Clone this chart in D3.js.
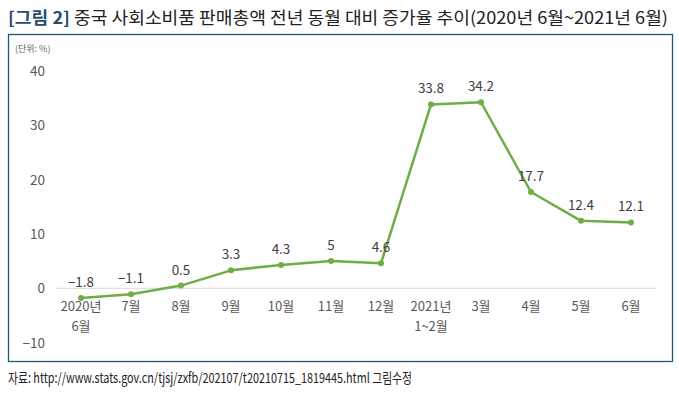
<!DOCTYPE html>
<html>
<head>
<meta charset="utf-8">
<script src="https://cdn.jsdelivr.net/npm/d3@7"></script>
<style>
    body { margin: 0; background: #fff; }
    svg { display: block; font-family: "Noto Sans CJK KR", "Noto Sans", sans-serif; }
</style>
</head>
<body>
<div id="chart"></div>
<script>
// ------------------------------------------
//  Data
// ------------------------------------------
const months = ["2020년\n6월", "7월", "8월", "9월", "10월", "11월", "12월", "2021년\n1~2월", "3월", "4월", "5월", "6월"]
const growth = [-1.8, -1.1, 0.5, 3.3, 4.3, 5, 4.6, 33.8, 34.2, 17.7, 12.4, 12.1]
const yTicks = [-10, 0, 10, 20, 30, 40]

const titleTag = "[그림 2]"
const titleText = " 중국 사회소비품 판매총액 전년 동월 대비 증가율 추이(2020년 6월~2021년 6월)"
const unitText = "(단위: %)"
const sourceText = "자료: http://www.stats.gov.cn/tjsj/zxfb/202107/t20210715_1819445.html 그림수정"

// ------------------------------------------
//  Chart
// ------------------------------------------
function drawChart() {
    const W = 679, H = 394
    const svg = d3.select("#chart").append("svg").attr("width", W).attr("height", H)

    const title = svg.append("text")
        .attr("x", 8).attr("y", 24)
        .attr("font-size", 17)
        .attr("textLength", 660).attr("lengthAdjust", "spacingAndGlyphs")
    title.append("tspan").attr("fill", "#2b4a6f").attr("font-weight", "bold").text(titleTag)
    title.append("tspan").attr("fill", "#222").text(titleText)

    svg.append("rect")
        .attr("x", 8.5).attr("y", 34.5).attr("width", 664).attr("height", 327)
        .attr("fill", "none").attr("stroke", "#1d5a6e").attr("stroke-width", 1.3)

    svg.append("text")
        .attr("x", 15).attr("y", 52)
        .attr("font-size", 9).attr("fill", "#666")
        .text(unitText)

    const x = d3.scalePoint().domain(months).range([56, 656]).padding(0.5)
    const y = d3.scaleLinear().domain([-10, 40]).range([342.7, 70.7])

    // y tick labels
    svg.append("g").selectAll("text")
        .data(yTicks)
        .join("text")
        .attr("x", 45).attr("y", d => y(d) + 5)
        .attr("text-anchor", "end")
        .attr("font-size", 13.5).attr("fill", "#595959")
        .text(d => d < 0 ? "\u2212" + Math.abs(d) : d)

    // zero line
    svg.append("line")
        .attr("x1", 56).attr("x2", 656)
        .attr("y1", y(0)).attr("y2", y(0))
        .attr("stroke", "#d9d9d9").attr("stroke-width", 1)

    // category labels
    const cats = svg.append("g").selectAll("text")
        .data(months)
        .join("text")
        .attr("text-anchor", "middle")
        .attr("font-size", 13).attr("fill", "#595959")
    cats.each(function (d) {
        const lines = d.split("\n")
        d3.select(this).selectAll("tspan")
            .data(lines)
            .join("tspan")
            .attr("x", x(d))
            .attr("y", (l, i) => 311 + i * 20)
            .text(l => l)
    })

    // line
    const line = d3.line().x((d, i) => x(months[i])).y(d => y(d))
    svg.append("path")
        .datum(growth)
        .attr("fill", "none")
        .attr("stroke", "#70ad47").attr("stroke-width", 2.5)
        .attr("stroke-linejoin", "round")
        .attr("d", line)

    svg.append("g").selectAll("circle")
        .data(growth)
        .join("circle")
        .attr("cx", (d, i) => x(months[i]))
        .attr("cy", d => y(d))
        .attr("r", 3)
        .attr("fill", "#70ad47")

    // value labels
    svg.append("g").selectAll("text")
        .data(growth)
        .join("text")
        .attr("x", (d, i) => x(months[i]))
        .attr("y", d => y(d) - 11)
        .attr("text-anchor", "middle")
        .attr("font-size", 13.5).attr("fill", "#404040")
        .text(d => d < 0 ? "\u2212" + Math.abs(d) : d)

    svg.append("text")
        .attr("x", 8).attr("y", 383)
        .attr("font-size", 14).attr("fill", "#222")
        .attr("textLength", 404).attr("lengthAdjust", "spacingAndGlyphs")
        .text(sourceText)
}

drawChart()
</script>
</body>
</html>
